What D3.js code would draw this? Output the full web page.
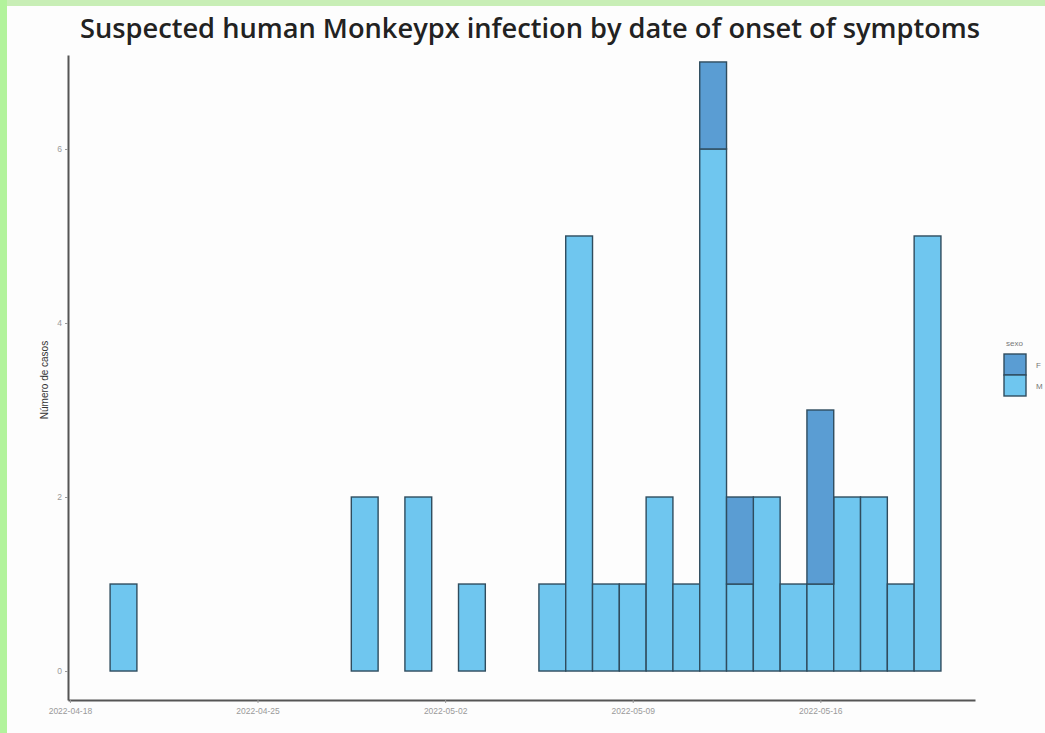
<!DOCTYPE html>
<html>
<head>
<meta charset="utf-8">
<script src="https://cdn.jsdelivr.net/npm/d3@7"></script>
<style>
html,body{margin:0;padding:0;background:#c3eeae;overflow:hidden;}
svg{display:block;}
</style>
</head>
<body>
<svg id="chart" width="1045" height="733"></svg>
<script>
// ---- data ----
const dates = ["2022-04-20","2022-04-29","2022-05-01","2022-05-03","2022-05-06","2022-05-07","2022-05-08","2022-05-09","2022-05-10","2022-05-11","2022-05-12","2022-05-13","2022-05-14","2022-05-15","2022-05-16","2022-05-17","2022-05-18","2022-05-19","2022-05-20"];
const casesM = [1,2,2,1,1,5,1,1,2,1,6,1,2,1,1,2,2,1,5];
const casesF = [0,0,0,0,0,0,0,0,0,0,1,1,0,0,2,0,0,0,0];
const xTickLabels = ["2022-04-18","2022-04-25","2022-05-02","2022-05-09","2022-05-16"];
const yTicks = [0,2,4,6];
const sexes = ["F","M"];
const colors = {F:"#5a9dd3", M:"#6fc6ef"};

const parse = d3.timeParse("%Y-%m-%d");
const svg = d3.select("#chart");

// background: green frame + white panel
svg.append("rect").attr("x",0).attr("y",0).attr("width",1045).attr("height",733).attr("fill","#c8eeb6");
svg.append("rect").attr("x",0).attr("y",0).attr("width",7).attr("height",733).attr("fill","#b2f39c");
svg.append("rect").attr("x",7).attr("y",6).attr("width",1038).attr("height",727).attr("fill","#fdfdfd");

// scales
const x = d3.scaleTime()
  .domain([new Date(2022,3,17,22,18), new Date(2022,4,21,18,30)])
  .range([68, 975]);
const y = d3.scaleLinear().domain([-0.333, 7.08]).range([700, 55]);

// stacked data
const rows = dates.map((d,i)=>({date:parse(d), M:casesM[i], F:casesF[i]}));
const stack = d3.stack().keys(["M","F"])(rows);

const dayW = x(new Date(2022,4,2)) - x(new Date(2022,4,1));

const g = svg.append("g");
stack.forEach(layer=>{
  g.selectAll(null).data(layer.filter(d=>d[1]>d[0])).enter().append("rect")
    .attr("x", d=>x(d.data.date)-dayW/2)
    .attr("width", dayW)
    .attr("y", d=>y(d[1]))
    .attr("height", d=>y(d[0])-y(d[1]))
    .attr("fill", colors[layer.key])
    .attr("stroke","#2f4c5e")
    .attr("stroke-width",1.4);
});

// axes
const xAxis = d3.axisBottom(x)
  .tickValues(xTickLabels.map(parse))
  .tickFormat(d3.timeFormat("%Y-%m-%d"))
  .tickSize(3).tickSizeOuter(0);
const gx = svg.append("g").attr("transform","translate(0,700)").call(xAxis);
gx.select(".domain").attr("stroke","#555").attr("stroke-width",2);
gx.selectAll(".tick line").attr("stroke","#999");
gx.selectAll(".tick text").attr("fill","#9a9a9a").attr("font-size",8.5)
  .attr("font-family","Liberation Sans, Arial, sans-serif").attr("dy","0.9em");

const yAxis = d3.axisLeft(y).tickValues(yTicks).tickSize(3).tickSizeOuter(0);
const gy = svg.append("g").attr("transform","translate(68,0)").call(yAxis);
gy.select(".domain").attr("stroke","#555").attr("stroke-width",2);
gy.selectAll(".tick line").attr("stroke","#999");
gy.selectAll(".tick text").attr("fill","#9a9a9a").attr("font-size",8.5)
  .attr("font-family","Liberation Sans, Arial, sans-serif");

// y title
svg.append("text")
  .attr("transform","translate(48,380) rotate(-90)")
  .attr("text-anchor","middle")
  .attr("font-family","Liberation Sans, Arial, sans-serif")
  .attr("font-size",10).attr("fill","#333")
  .text("Número de casos");

// title
svg.append("text")
  .attr("x",530).attr("y",38)
  .attr("text-anchor","middle")
  .attr("font-family","Open Sans, sans-serif")
  .attr("font-size",27).attr("font-weight",600).attr("fill","#222")
  .attr("textLength",900).attr("lengthAdjust","spacingAndGlyphs")
  .text("Suspected human Monkeypx infection by date of onset of symptoms");

// legend
const lg = svg.append("g").attr("transform","translate(1004,340)");
lg.append("text").attr("x",2).attr("y",6).attr("font-size",8).attr("fill","#777")
  .attr("font-family","Liberation Sans, Arial, sans-serif").text("sexo");
sexes.forEach((s,i)=>{
  lg.append("rect").attr("x",0).attr("y",14+i*21).attr("width",22).attr("height",21)
    .attr("fill",colors[s]).attr("stroke","#2f4c5e").attr("stroke-width",1.4);
  lg.append("text").attr("x",32).attr("y",14+i*21+14).attr("font-size",8).attr("fill","#777")
    .attr("font-family","Liberation Sans, Arial, sans-serif").text(s);
});
</script>
</body>
</html>
